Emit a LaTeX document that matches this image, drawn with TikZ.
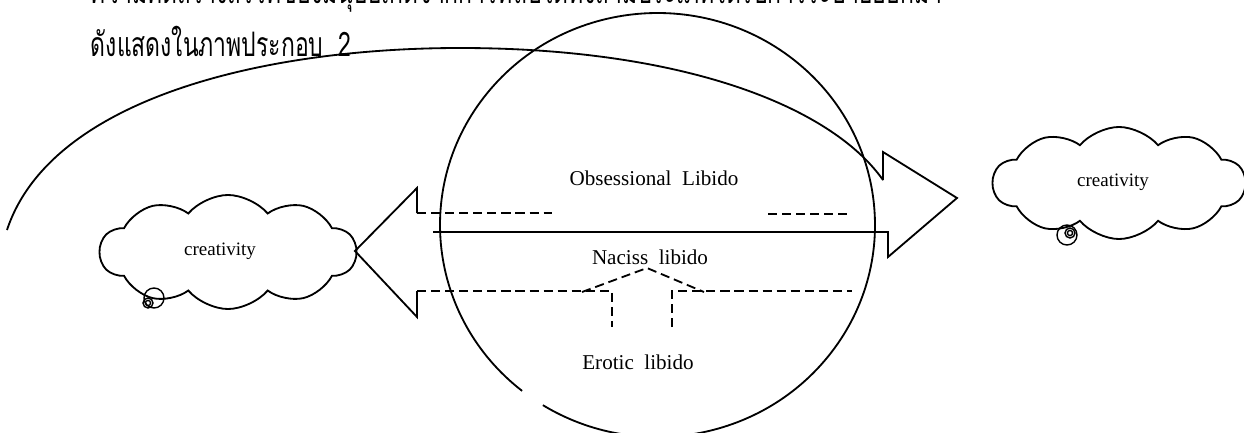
\documentclass[tikz,border=0pt]{standalone}
\usepackage{fontspec}
\setmainfont{Liberation Serif}
\newfontfamily\thaifont[Script=Thai,FakeStretch=0.68]{Loma}
\usetikzlibrary{positioning,shapes.symbols}

\tikzset{
  lbl/.style={font=\fontsize{15}{18}\selectfont, inner sep=0pt},
  thaitext/.style={anchor=base west, inner sep=0pt, font=\thaifont\fontsize{24}{28}\selectfont},
  thought/.style={cloud, cloud puffs=10, cloud puff arc=100, aspect=2.25, draw,
    inner sep=0pt, font=\fontsize{13.5}{16}\selectfont},
  tailbub/.style={circle, draw, inner sep=0pt, line width=1pt},
  dashline/.style={dash pattern=on 6.5pt off 3.5pt},
}

\begin{document}
\begin{tikzpicture}[x=0.025cm, y=-0.025cm, line width=1.3pt]
  \useasboundingbox (0,0) rectangle (1244,433);

  % paragraph above the figure
  \node[thaitext] (para1) at (90,4) {ความคิดสร้างสรรค์ของมนุษย์เกิดจากการที่ลิบิโดทั้งสามประเภทได้รับการระบายออกมา};
  \node[thaitext] (para2) at (90,57) {ดังแสดงในภาพประกอบ~~2};

  % the mind, with a small gap at the lower left
  \coordinate (mind) at (657.5,225);
  \draw ([shift={(128.5:217.5 and 212)}]mind)
    arc[start angle=128.5, end angle=481.8, x radius=217.5, y radius=212];

  % arrow to the right, its upper edge is the long arc
  \coordinate (shaftW) at (433,232);
  \coordinate (notchRa) at (888,232);
  \coordinate (notchRb) at (888,257);
  \coordinate (tipR) at (957,198);
  \coordinate (notchRc) at (883,152);
  \coordinate (notchRd) at (883,180);
  \coordinate (arcTop) at (460,48);
  \coordinate (arcEnd) at (7,230);
  \draw (shaftW) -- (notchRa) -- (notchRb) -- (tipR) -- (notchRc) -- (notchRd);
  \draw (notchRd) .. controls (830,105) and (680,48) .. (arcTop)
    .. controls (260,48) and (50,100) .. (arcEnd);

  % arrow to the left
  \coordinate (notchLa) at (417,213);
  \coordinate (notchLb) at (417,188);
  \coordinate (tipL) at (355,251);
  \coordinate (notchLc) at (417,317);
  \coordinate (notchLd) at (417,291);
  \draw (notchLa) -- (notchLb) -- (tipL) -- (notchLc) -- (notchLd);

  % dashed borders
  \draw[dashline] (notchLa) -- (552,213);
  \draw[dashline] (768,214) -- (852,214);
  \draw[dashline] (notchLd) -- (612,291) -- (612,327);
  \draw[dashline] (672,327) -- (672,291) -- (852,291);
  \draw[dashline] (582,292) -- (647,268) -- (704,292);

  % labels
  \node[lbl] (obs) at (654,178) {Obsessional\ \ Libido};
  \node[lbl] (nac) at (650,257) {Naciss\ \ libido};
  \node[lbl] (ero) at (638,362) {Erotic\ \ libido};

  % creativity clouds
  \node[thought, minimum width=6.4cm, minimum height=2.85cm] (creaL) at (228,252) {\kern-0.4cm\raisebox{0.12cm}{creativity}};
  \node[thought, minimum width=6.3cm, minimum height=2.8cm] (creaR) at (1119,183) {\kern-0.3cm\raisebox{0.15cm}{creativity}};

  \node[tailbub, minimum size=0.5cm] (tailLa) at (154,298) {};
  \node[tailbub, minimum size=0.25cm] (tailLb) at (148,303) {};
  \node[tailbub, minimum size=0.13cm] (tailLc) at (148,303) {};
  \node[tailbub, minimum size=0.5cm] (tailRa) at (1067,235) {};
  \node[tailbub, minimum size=0.25cm] (tailRb) at (1070,233) {};
  \node[tailbub, minimum size=0.13cm] (tailRc) at (1070,233) {};
\end{tikzpicture}
\end{document}
